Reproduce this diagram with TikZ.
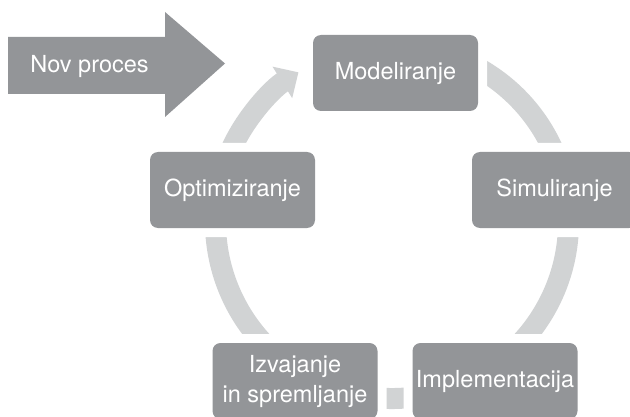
\documentclass[tikz,border=0pt]{standalone}
\usepackage{fontspec}
\setmainfont{TeX Gyre Heros}
\usetikzlibrary{arrows.meta}
\definecolor{boxgray}{RGB}{147,149,152}
\definecolor{ringgray}{RGB}{209,211,212}
\begin{document}
\begin{tikzpicture}[x=1pt,y=1pt,
  stepbox/.style={fill=boxgray, rounded corners=8pt, minimum width=165pt,
    minimum height=76pt, inner sep=0pt, text=white,
    font=\fontsize{23.5}{30}\selectfont, align=center,
    preaction={draw=white, line width=18pt}},
  ring/.style={draw=ringgray, line width=21pt},
  bigarrow/.style={fill=boxgray},
  label/.style={text=white, font=\fontsize{23.5}{30}\selectfont, inner sep=0pt}]
\useasboundingbox (0,0) rectangle (630,416);
\clip (0,0) rectangle (630,416);
\coordinate (C) at (392,194);
% cycle ring
\draw[ring, -{Triangle[length=19pt,width=36pt]}] (C) ++(60:176.5pt)
  arc[start angle=60, end angle=-238, radius=176.5pt];
% steps
\node[stepbox] (mod) at (395.5,343) {Modeliranje};
\node[stepbox] (sim) at (554.5,226) {Simuliranje};
\node[stepbox] (imp) at (495,35) {Implementacija};
\node[stepbox] (izv) at (295,35) {Izvajanje\\in spremljanje};
\node[stepbox] (opt) at (232.5,226) {Optimiziranje};
% new process arrow
\fill[bigarrow] (8,379) -- (165,379) -- (165,404) -- (225,352.5)
  -- (165,299) -- (165,322) -- (8,322) -- cycle;
\node[label] (nov) at (89.5,350) {Nov proces};
\end{tikzpicture}
\end{document}
